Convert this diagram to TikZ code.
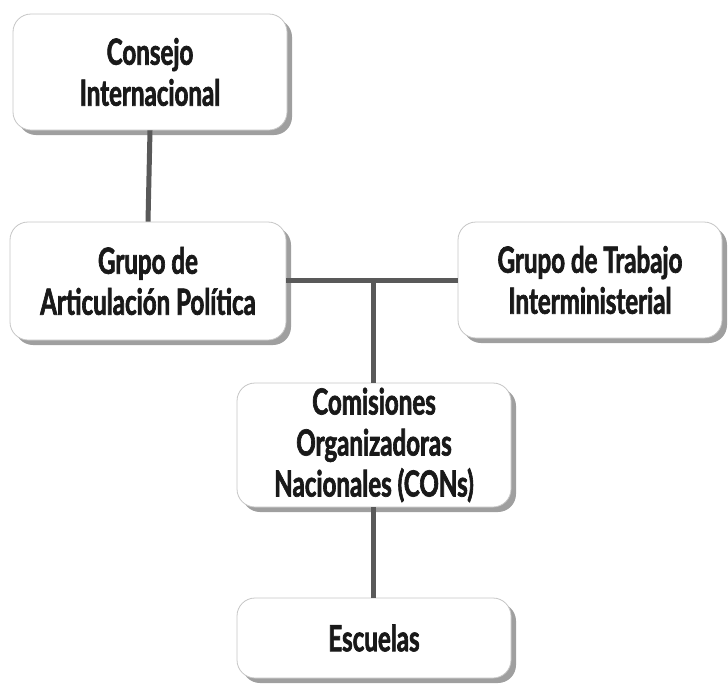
\documentclass[tikz,border=0pt]{standalone}
\usepackage{fontspec}
\setmainfont{Lato}[UprightFont=* Bold, FakeStretch=0.67, FakeBold=1.8]
\usetikzlibrary{shadows}
\tikzset{>=latex}

\begin{document}
\begin{tikzpicture}[x=1pt, y=-1pt,
  cajon/.style={draw=gray!45, line width=0.8pt, fill=white, rounded corners=18pt,
    align=center, font=\fontsize{36}{41}\selectfont, text=black!90, inner sep=0pt,
    drop shadow={shadow xshift=5pt, shadow yshift=-5pt, fill=gray!75, opacity=1}},
  enlace/.style={draw=black!65, line width=5pt}]
  \useasboundingbox (0, 0) rectangle (728, 683);
  % lineas
  \coordinate (nudo) at (373, 280);
  \node[cajon, minimum width=274pt, minimum height=116pt] (consejo) at (150, 72) {Consejo\\Internacional};
  \node[cajon, minimum width=276pt, minimum height=118pt] (grupoap) at (148, 281) {Grupo de\\Articulación Política};
  \node[cajon, minimum width=264pt, minimum height=116pt] (grupoti) at (590, 280) {Grupo de Trabajo\\Interministerial};
  \node[cajon, minimum width=274pt, minimum height=124pt] (cons) at (374, 445) {Comisiones\\Organizadoras\\Nacionales (CONs)};
  \node[cajon, minimum width=274pt, minimum height=80pt] (escuelas) at (374, 638) {Escuelas};
  \draw[enlace] (consejo.south) -- (grupoap.north);
  \draw[enlace] (grupoap.east |- nudo) -- (grupoti.west |- nudo);
  \draw[enlace] (nudo) -- (nudo |- cons.north);
  \draw[enlace] (cons.south -| nudo) -- (escuelas.north -| nudo);
\end{tikzpicture}
\end{document}
